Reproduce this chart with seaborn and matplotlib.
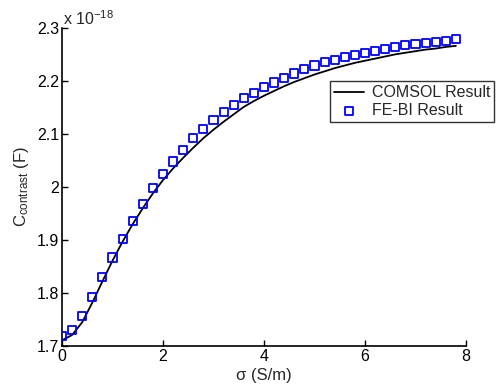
import numpy as np
import pandas as pd
import matplotlib
matplotlib.use("Agg")
import matplotlib.pyplot as plt
import seaborn as sns

sigma = [0.0, 0.2, 0.4, 0.6, 0.8, 1.0, 1.2, 1.4, 1.6, 1.8,
         2.0, 2.2, 2.4, 2.6, 2.8, 3.0, 3.2, 3.4, 3.6, 3.8,
         4.0, 4.2, 4.4, 4.6, 4.8, 5.0, 5.2, 5.4, 5.6, 5.8,
         6.0, 6.2, 6.4, 6.6, 6.8, 7.0, 7.2, 7.4, 7.6, 7.8]
comsol = [1.711, 1.721, 1.745, 1.782, 1.822, 1.861, 1.897, 1.930, 1.960, 1.988,
          2.013, 2.035, 2.055, 2.074, 2.092, 2.108, 2.123, 2.137, 2.151, 2.162,
          2.172, 2.181, 2.190, 2.198, 2.205, 2.212, 2.218, 2.224, 2.229, 2.234,
          2.238, 2.242, 2.246, 2.250, 2.253, 2.256, 2.259, 2.261, 2.264, 2.266]
febi = [1.719, 1.730, 1.757, 1.792, 1.830, 1.867, 1.902, 1.936, 1.968, 1.998,
        2.025, 2.048, 2.070, 2.092, 2.109, 2.126, 2.141, 2.155, 2.167, 2.178,
        2.188, 2.197, 2.206, 2.214, 2.222, 2.229, 2.235, 2.240, 2.245, 2.249,
        2.253, 2.257, 2.260, 2.264, 2.267, 2.270, 2.272, 2.274, 2.276, 2.279]
x_ticks = [0, 2, 4, 6, 8]
y_ticks = [1.7, 1.8, 1.9, 2.0, 2.1, 2.2, 2.3]
y_tick_labels = ["1.7", "1.8", "1.9", "2", "2.1", "2.2", "2.3"]

sns.set_style("ticks")
plt.rcParams['font.family'] = ['Liberation Sans', 'DejaVu Sans']
plt.rcParams['mathtext.fontset'] = 'custom'
plt.rcParams['mathtext.rm'] = 'Liberation Sans'
plt.rcParams['mathtext.it'] = 'Liberation Sans:italic'
plt.rcParams['xtick.direction'] = 'in'
plt.rcParams['ytick.direction'] = 'in'

df = pd.DataFrame({"sigma": sigma, "comsol": comsol, "febi": febi})

fig = plt.figure(figsize=(4.96, 3.92), dpi=100)
ax = fig.add_axes([0.125, 0.117, 0.8145, 0.812])

sns.lineplot(data=df, x="sigma", y="comsol", ax=ax, color="black", linewidth=1.3,
             label="COMSOL Result", legend=False)
sns.scatterplot(data=df, x="sigma", y="febi", ax=ax, marker="s", s=34,
                facecolor="none", edgecolor=(0, 0, 1), linewidth=1.3,
                label="FE-BI Result", legend=False, zorder=3)

ax.set_xlim(0, 8)
ax.set_ylim(1.7, 2.3)
ax.set_xticks(x_ticks)
ax.set_xticklabels([str(t) for t in x_ticks])
ax.set_yticks(y_ticks)
ax.set_yticklabels(y_tick_labels)
ax.tick_params(labelsize=11.5, length=4, width=1, colors="black", pad=2)
for s in ["top", "right"]:
    ax.spines[s].set_visible(False)
for s in ["left", "bottom"]:
    ax.spines[s].set_linewidth(1.2)
    ax.spines[s].set_color("black")

ax.set_xlabel("σ (S/m)", fontsize=12, labelpad=3)
ax.set_ylabel(r"C$_{\mathrm{contrast}}$ (F)", fontsize=12, labelpad=4)
ax.text(0.003, 1.0, r"x 10$^{-18}$", transform=ax.transAxes, fontsize=11.5,
        ha="left", va="bottom")

handles, labels = ax.get_legend_handles_labels()
leg = fig.legend(handles, labels, loc="upper right", bbox_to_anchor=(0.996, 0.793),
                 fontsize=11.5, frameon=True, fancybox=False, edgecolor="black",
                 borderpad=0.25, borderaxespad=0, handlelength=1.9,
                 handletextpad=0.45, labelspacing=0.2)
leg.get_frame().set_linewidth(1.0)

fig.savefig("out.png", dpi=100, facecolor="white")
